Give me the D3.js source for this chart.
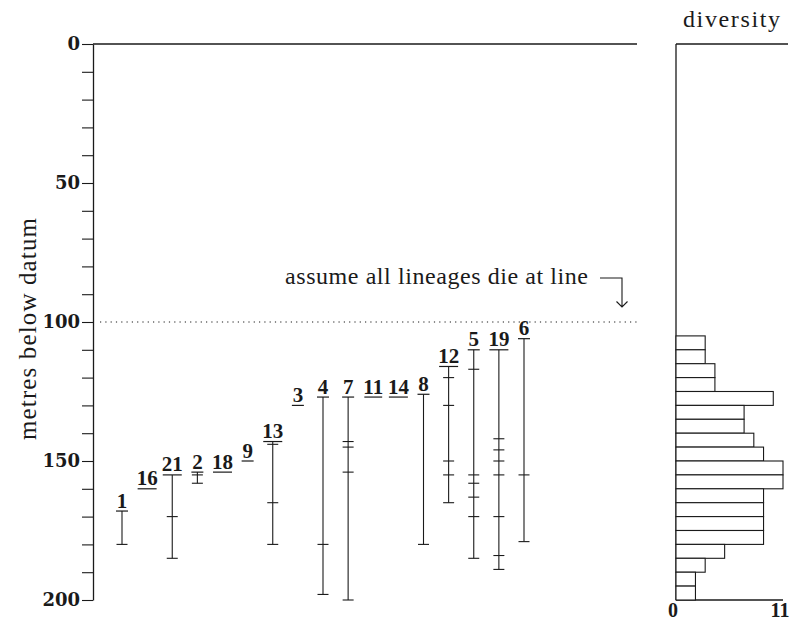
<!DOCTYPE html>
<html>
<head>
<meta charset="utf-8">
<script src="https://cdn.jsdelivr.net/npm/d3@7"></script>
<style>
  body { margin: 0; background: #fff; }
  svg { display: block; }
</style>
</head>
<body>
<div id="chart"></div>
<script>
// #####################################################
// Data
//
// lineages, left to right
var lineageIds = ["1", "16", "21", "2", "18", "9", "13", "3", "4", "7", "11", "14", "8", "12", "5", "19", "6"];
// depth (m) of first record, where the label sits
var firstDepth = [168, 160, 155, 154, 154, 150, 143, 130, 127, 127, 127, 127, 126, 116, 110, 110, 106];
// depth (m) of last record (null = only one horizon)
var lastDepth = [180, null, 185, 158, null, null, 180, null, 198, 200, null, null, 180, 165, 185, 189, 179];
// records in between
var midRecords = [[], [], [170], [155], [], [], [144, 165], [], [180], [143, 145, 154], [], [], [],
                  [120, 130, 150, 155], [117, 155, 158, 163, 170], [142, 146, 150, 155, 170, 184], [155]];

// diversity per 5 m bin
var binTops = [105, 110, 115, 120, 125, 130, 135, 140, 145, 150, 155, 160, 165, 170, 175, 180, 185, 190, 195];
var diversity = [3, 3, 4, 4, 10, 7, 7, 8, 9, 11, 11, 9, 9, 9, 9, 5, 3, 2, 2];
var binSize = 5;

var depthTicks = [0, 10, 20, 30, 40, 50, 60, 70, 80, 90, 100, 110, 120, 130, 140, 150, 160, 170, 180, 190, 200];
var diversityTicks = [0, 11];
var cutoffDepth = 100;

// #####################################################
// Plot
//
var W = 791, H = 620;
var ink = "#1a1a1a";
var serif = "'Liberation Serif', 'Times New Roman', serif";
var numSerif = "'DejaVu Serif', serif";

var svg = d3.select("#chart").append("svg")
    .attr("width", W)
    .attr("height", H);

var axisX = 93, plotRight = 637;
var y = d3.scaleLinear().domain([0, 200]).range([44, 600]);
var x = d3.scalePoint().domain(lineageIds).range([122, 524]);
var xd = d3.scaleLinear().domain([0, 11]).range([676, 783]);

// left depth axis
var yAxis = svg.append("g")
    .attr("transform", "translate(" + axisX + ",0)")
    .call(d3.axisLeft(y)
      .tickValues(depthTicks)
      .tickSize(11)
      .tickSizeOuter(0)
      .tickPadding(2)
      .tickFormat(function (d) { return d % 50 === 0 ? d : ""; }));
yAxis.select(".domain").attr("stroke", ink).attr("stroke-width", 1.3);
yAxis.selectAll(".tick line").attr("stroke", ink).attr("stroke-width", 1.1);
yAxis.selectAll(".tick text")
    .attr("fill", ink)
    .style("font-family", numSerif)
    .style("font-weight", "bold")
    .style("font-size", "18px");

// top frame line
svg.append("line")
    .attr("x1", axisX).attr("x2", plotRight)
    .attr("y1", y(0)).attr("y2", y(0))
    .attr("stroke", ink).attr("stroke-width", 1.3);

// axis title
svg.append("text")
    .attr("transform", "translate(36," + (y(100) + 7) + ") rotate(-90)")
    .attr("text-anchor", "middle")
    .attr("textLength", 222)
    .attr("lengthAdjust", "spacing")
    .style("font-family", serif)
    .style("font-size", "25px")
    .attr("fill", ink)
    .text("metres below datum");

// cutoff line + note
svg.append("line")
    .attr("x1", axisX + 7).attr("x2", plotRight)
    .attr("y1", y(cutoffDepth)).attr("y2", y(cutoffDepth))
    .attr("stroke", ink).attr("stroke-width", 1.2)
    .attr("stroke-dasharray", "1.2 4.1");

svg.append("text")
    .attr("x", 285).attr("y", y(cutoffDepth) - 38)
    .attr("textLength", 303)
    .attr("lengthAdjust", "spacing")
    .style("font-family", serif)
    .style("font-size", "24px")
    .attr("fill", ink)
    .text("assume all lineages die at line");

var ax = 622, ay = y(cutoffDepth) - 44, tipY = y(cutoffDepth) - 15;
svg.append("path")
    .attr("d", "M" + (ax - 22) + "," + ay + "H" + ax + "V" + tipY +
               "M" + (ax - 5.5) + "," + (tipY - 5.5) + "L" + ax + "," + tipY + "L" + (ax + 5.5) + "," + (tipY - 5.5))
    .attr("fill", "none").attr("stroke", ink).attr("stroke-width", 1.1);

// lineages
var lin = svg.selectAll("g.lineage")
    .data(lineageIds.map(function (id, i) {
      return {id: id, top: firstDepth[i], bottom: lastDepth[i], mids: midRecords[i]};
    }))
  .enter().append("g")
    .attr("class", "lineage")
    .attr("transform", function (d) { return "translate(" + x(d.id) + ",0)"; });

lin.filter(function (d) { return d.bottom != null; })
  .append("line")
    .attr("x1", 0).attr("x2", 0)
    .attr("y1", function (d) { return y(d.top); })
    .attr("y2", function (d) { return y(d.bottom); })
    .attr("stroke", ink).attr("stroke-width", 1.1);

lin.selectAll("line.rec")
    .data(function (d) { return d.bottom != null ? d.mids.concat([d.bottom]) : []; })
  .enter().append("line")
    .attr("class", "rec")
    .attr("x1", -5.5).attr("x2", 5.5)
    .attr("y1", function (v) { return y(v); })
    .attr("y2", function (v) { return y(v); })
    .attr("stroke", ink).attr("stroke-width", 1.1);

var labels = lin.append("text")
    .attr("text-anchor", "middle")
    .attr("y", function (d) { return y(d.top) - 3.5; })
    .style("font-family", serif)
    .style("font-weight", "bold")
    .style("font-size", "21px")
    .attr("fill", ink)
    .text(function (d) { return d.id; });

labels.each(function (d) {
  var w = Math.max(12, this.getComputedTextLength() - 2);
  d3.select(this.parentNode).append("line")
      .attr("x1", -w / 2).attr("x2", w / 2)
      .attr("y1", y(d.top)).attr("y2", y(d.top))
      .attr("stroke", ink).attr("stroke-width", 1.2);
});

// #####################################################
// Diversity histogram
//
svg.append("line")
    .attr("x1", xd(0)).attr("x2", xd(0))
    .attr("y1", y(0)).attr("y2", y(200))
    .attr("stroke", ink).attr("stroke-width", 1.3);
svg.append("line")
    .attr("x1", xd(0)).attr("x2", W - 3)
    .attr("y1", y(0)).attr("y2", y(0))
    .attr("stroke", ink).attr("stroke-width", 1.3);
svg.append("line")
    .attr("x1", xd(0)).attr("x2", xd(11))
    .attr("y1", y(200)).attr("y2", y(200))
    .attr("stroke", ink).attr("stroke-width", 1.3);

svg.selectAll("rect.bin")
    .data(binTops)
  .enter().append("rect")
    .attr("class", "bin")
    .attr("x", xd(0))
    .attr("y", function (d) { return y(d); })
    .attr("width", function (d, i) { return xd(diversity[i]) - xd(0); })
    .attr("height", function (d) { return y(d + binSize) - y(d); })
    .attr("fill", "#fff")
    .attr("stroke", ink).attr("stroke-width", 1.1);

svg.selectAll("text.dtick")
    .data(diversityTicks)
  .enter().append("text")
    .attr("class", "dtick")
    .attr("x", function (d) { return xd(d) - 3; })
    .attr("y", 617)
    .attr("text-anchor", "middle")
    .style("font-family", serif)
    .style("font-weight", "bold")
    .style("font-size", "20px")
    .attr("fill", ink)
    .text(function (d) { return d; });

svg.append("text")
    .attr("x", 683).attr("y", 27)
    .attr("textLength", 97)
    .attr("lengthAdjust", "spacing")
    .style("font-family", serif)
    .style("font-size", "24px")
    .attr("fill", ink)
    .text("diversity");
</script>
</body>
</html>
